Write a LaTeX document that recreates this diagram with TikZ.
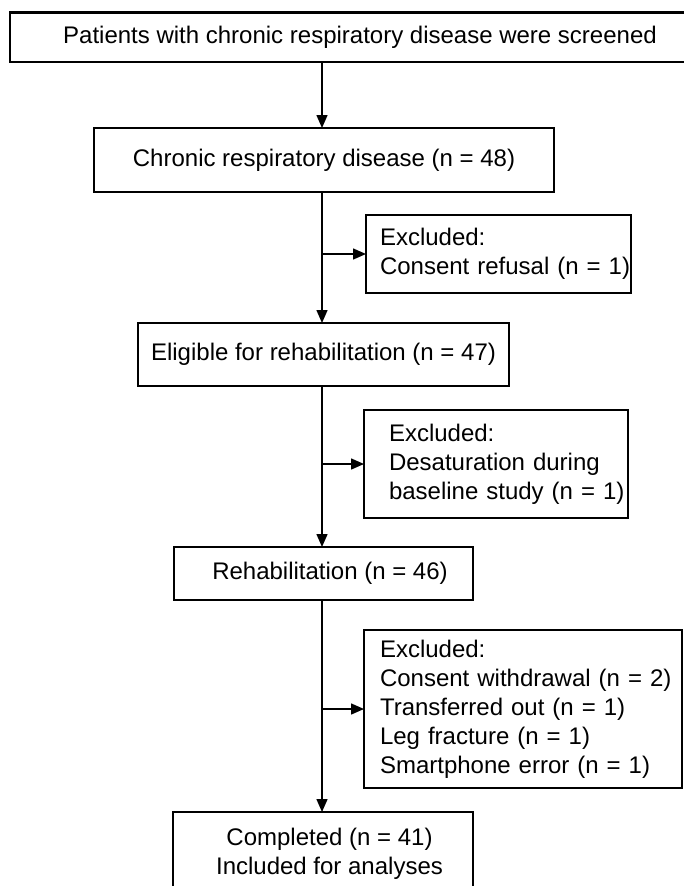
\documentclass[tikz,border=0pt]{standalone}
\usepackage{fontspec}
\setmainfont{Liberation Sans}
\usetikzlibrary{arrows.meta}
\newcommand{\exline}[2]{\hspace*{#1}\mbox{#2}}
\tikzset{
  box/.style={draw=black, line width=2.6pt, outer sep=0pt, inner sep=0pt,
    font=\fontsize{24}{29}\selectfont, align=center},
  exbox/.style={box, align=left, inner xsep=0pt},
  arr/.style={draw=black, line width=1.5pt, -{Triangle[length=13pt,width=11pt]}}
}
\begin{document}
\begin{tikzpicture}[x=1pt,y=1pt]
\useasboundingbox (0,0) rectangle (684,-886);
\clip (0,0) rectangle (684,-886);
\coordinate (ax) at (322,0);
\node[box, minimum width=700pt, minimum height=49.5pt] (top) at (360,-37.25)
  {Patients with chronic respiratory disease were screened};
\node[box, minimum width=460pt, minimum height=64pt] (chronic) at (324,-160)
  {Chronic respiratory disease (n = 48)};
\node[exbox, text width=265pt, minimum height=78pt] (ex1) at (498.5,-254)
  {\exline{14pt}{Excluded:}\\\exline{14pt}{Consent refusal (n = 1)}};
\node[box, minimum width=371pt, minimum height=63pt] (elig) at (323.5,-354.5)
  {Eligible for rehabilitation (n = 47)};
\node[exbox, text width=264pt, minimum height=108pt] (ex2) at (496,-464)
  {\exline{25pt}{Excluded:}\\\exline{25pt}{Desaturation during}\\\exline{25pt}{baseline study (n = 1)}};
\node[box, minimum width=299pt, minimum height=53pt] (rehab) at (323.5,-573.5)
  {\hspace*{13pt}Rehabilitation (n = 46)};
\node[exbox, text width=318pt, minimum height=158pt] (ex3) at (523,-709)
  {\exline{16pt}{Excluded:}\\\exline{16pt}{Consent withdrawal (n = 2)}\\\exline{16pt}{Transferred out (n = 1)}\\\exline{16pt}{Leg fracture (n = 1)}\\\exline{16pt}{Smartphone error (n = 1)}};
\node[box, minimum width=300pt, minimum height=84pt] (comp) at (323,-854)
  {\hspace*{13pt}Completed (n = 41)\\\hspace*{13pt}Included for analyses};
\draw[arr] (top.south -| ax) -- (chronic.north -| ax);
\draw[arr] (chronic.south -| ax) -- (elig.north -| ax);
\draw[arr] (ex1.west -| ax) -- (ex1.west);
\draw[arr] (elig.south -| ax) -- (rehab.north -| ax);
\draw[arr] (ex2.west -| ax) -- (ex2.west);
\draw[arr] (rehab.south -| ax) -- (comp.north -| ax);
\draw[arr] (ex3.west -| ax) -- (ex3.west);
\end{tikzpicture}
\end{document}
